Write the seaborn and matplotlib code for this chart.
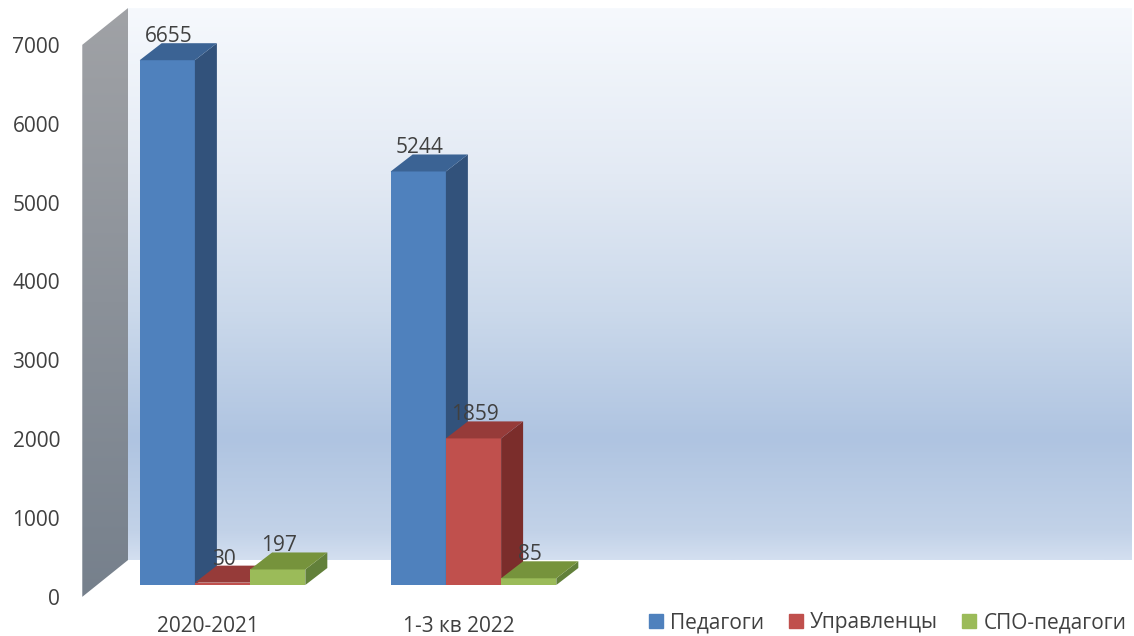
import matplotlib
matplotlib.use("Agg")
import matplotlib.pyplot as plt
import numpy as np
import pandas as pd
import seaborn as sns
from matplotlib.colors import LinearSegmentedColormap
from matplotlib.patches import Polygon
from matplotlib.lines import Line2D
from matplotlib.transforms import ScaledTranslation

# --- data ---
periods = ["2020-2021", "1-3 кв 2022"]
blank_slots = [" ", "  "]          # empty category slots on the right
groups = ["Педагоги", "Управленцы", "СПО-педагоги"]
pedagogi = [6655, 5244]
upravlency = [30, 1859]
spo_pedagogi = [197, 85]
yticks = [0, 1000, 2000, 3000, 4000, 5000, 6000, 7000]

front_colors = ["#4f81bd", "#c0504d", "#9bbb59"]
side_colors = ["#32527b", "#7b2d2b", "#62803a"]
top_colors = ["#3b6394", "#963b39", "#76933c"]
text_color = "#404040"

sns.set_style("white")
plt.rcParams["font.family"] = ["Open Sans", "DejaVu Sans"]

W, H = 1134, 636
fig = plt.figure(figsize=(W / 100, H / 100), dpi=100)

# geometry of the pseudo-3d box, pixels from top-left
left, right, top, bottom = 97, 1101, 33, 585
wall_dx, wall_dy = 46, 37      # full floor depth
front_frac = 0.32              # bar plane position inside the depth
bar_dx, bar_dy = 22, 17        # depth of the bars

# background walls
ax_bg = fig.add_axes([0, 0, 1, 1], zorder=0)
ax_bg.set_xlim(0, W)
ax_bg.set_ylim(H, 0)
ax_bg.axis("off")

bx0 = left + wall_dx * (1 - front_frac)
bx1 = right + wall_dx * (1 - front_frac)
by0 = top - wall_dy * (1 - front_frac)
by1 = bottom - wall_dy * (1 - front_frac)
fx = left - wall_dx * front_frac
fy0 = top + wall_dy * front_frac
fy1 = bottom + wall_dy * front_frac

wall_cmap = LinearSegmentedColormap.from_list(
    "wall", [(0, "#f6f9fd"), (0.3, "#e3eaf4"), (0.55, "#cbd9eb"),
             (0.78, "#afc4e1"), (0.95, "#c2d2e8"), (1.0, "#d3dff0")])
grad = np.linspace(0, 1, 256).reshape(-1, 1)
ax_bg.imshow(grad, cmap=wall_cmap, aspect="auto", origin="upper",
             extent=(bx0, bx1, by1, by0))

side_cmap = LinearSegmentedColormap.from_list("side", ["#a0a2a6", "#76808c"])
side_poly = Polygon([(fx, fy0), (bx0, by0), (bx0, by1), (fx, fy1)],
                    closed=True, facecolor="none", edgecolor="none")
ax_bg.add_patch(side_poly)
im = ax_bg.imshow(grad, cmap=side_cmap, aspect="auto", origin="upper",
                  extent=(fx, bx0, fy1, by0))
im.set_clip_path(side_poly)

# main axes = plane of the bar fronts
ax = fig.add_axes([left / W, 1 - bottom / H, (right - left) / W, (bottom - top) / H], zorder=1)
ax.patch.set_visible(False)

df = pd.DataFrame({
    "period": periods * 3,
    "group": np.repeat(groups, len(periods)),
    "value": pedagogi + upravlency + spo_pedagogi,
})
sns.barplot(data=df, x="period", y="value", hue="group",
            order=periods + blank_slots, hue_order=groups,
            palette=front_colors, saturation=1, width=0.66,
            errorbar=None, legend=False, linewidth=0, ax=ax)
ax.set_xlim(-0.5, len(periods) + len(blank_slots) - 0.5)
ax.set_ylim(0, 7000)
ax.set_yticks(yticks)
ax.set_xlabel("")
ax.set_ylabel("")
sns.despine(ax=ax, left=True, bottom=True)

inv = ax.transData.inverted()
for i, cont in enumerate(ax.containers):
    for bar in cont:
        h = bar.get_height()
        if np.isnan(h):
            continue
        bar.set_zorder(2 + i)
        x0, w = bar.get_x(), bar.get_width()
        p = ax.transData.transform([(x0, 0), (x0 + w, 0), (x0 + w, h), (x0, h)])
        off = np.array([bar_dx, bar_dy])
        side = [p[1], p[2], p[2] + off, p[1] + off]
        topf = [p[3], p[2], p[2] + off, p[3] + off]
        ax.add_patch(Polygon(inv.transform(side), closed=True, facecolor=side_colors[i],
                             edgecolor="none", zorder=2 + i))
        ax.add_patch(Polygon(inv.transform(topf), closed=True, facecolor=top_colors[i],
                             edgecolor="none", zorder=2 + i))
        ax.annotate(f"{int(h)}", (x0 + w / 2, h), xytext=(1, 18), textcoords="offset pixels",
                    ha="center", va="baseline", fontsize=15, color=text_color, zorder=10)

# tick labels sit on the front edge of the box
ax.tick_params(axis="both", length=0, labelsize=15, labelcolor=text_color)
ax.tick_params(axis="y", pad=16)
ax.tick_params(axis="x", pad=14)
shift = ScaledTranslation(-wall_dx * front_frac / 100, -wall_dy * front_frac / 100,
                          fig.dpi_scale_trans)
for lab in ax.get_yticklabels() + ax.get_xticklabels():
    lab.set_transform(lab.get_transform() + shift)

handles = [Line2D([], [], marker="s", linestyle="", markersize=10, color=c) for c in front_colors]
fig.legend(handles, groups, loc="lower right", bbox_to_anchor=(1.003, -0.012), ncol=3,
           frameon=False, handlelength=0.7, handletextpad=0.35, columnspacing=1.15,
           fontsize=15, borderaxespad=0.1, labelcolor=text_color)

fig.savefig("out.png", dpi=100)
